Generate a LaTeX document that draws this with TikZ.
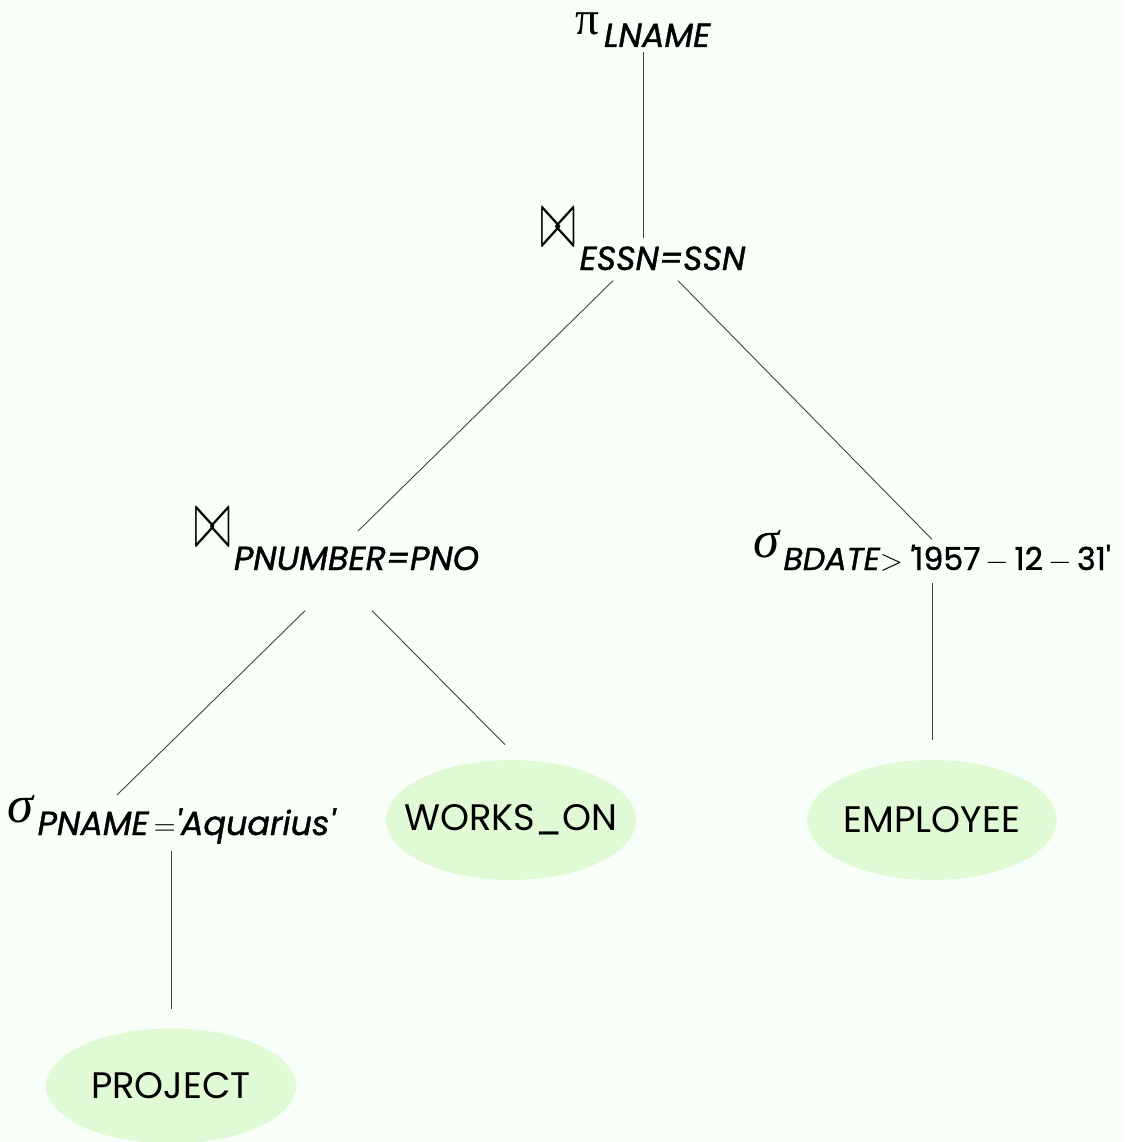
\documentclass[tikz,border=0pt]{standalone}
\usepackage{fontspec}
\usepackage{graphicx}
\setmainfont{Poppins}
\newfontfamily\subfont{Poppins}[FakeBold=1.2]
\newfontfamily\greekfont{Liberation Serif}
\usetikzlibrary{shapes.geometric,calc}

\definecolor{mintbg}{RGB}{248,255,248}
\definecolor{relfill}{RGB}{224,250,214}

% operator symbols sit raised before the subscript text
\newcommand{\opsym}[1]{\smash{\raisebox{7pt}{\fontsize{30}{30}\selectfont\greekfont #1}}\hspace{2.5pt}}
\newcommand{\joinsym}{\smash{\raisebox{13pt}{\scalebox{1}[1.9]{\fontsize{26}{28}\selectfont$\bowtie$}}}\hspace{2pt}}
% relation names: keep the ellipse at its own size
\newcommand{\relname}[1]{\makebox[0pt]{#1}}

\begin{document}
\begin{tikzpicture}[x=0.02cm, y=-0.02cm, line width=0.5pt]
        \tikzstyle{op}=[inner sep=0pt, anchor=base, font=\fontsize{19}{22}\subfont\itshape]
        \tikzstyle{rel}=[ellipse, fill=relfill, minimum width=5cm, minimum height=2.4cm, inner sep=0pt, font=\fontsize{21}{26}\selectfont]
        \tikzstyle{link}=[draw=black!75]
        \useasboundingbox (0,0) rectangle (1126,1142);
        \fill[mintbg] (0,0) rectangle (1126,1142);
        \node[op]  (pi)    at (643,47)   {\opsym{\upshape\fontsize{27}{28}\selectfont π}LNAME};
        \node[op]  (j1)    at (643,270)  {\joinsym ESSN=SSN};
        \node[op]  (j2)    at (337,570)  {\joinsym PNUMBER=PNO};
        \node[op, font=\fontsize{18}{22}\subfont\itshape] (s2) at (932,570)
                {\opsym{σ}BDATE$>$\,\textquotesingle{\upshape 1957\,$-$\,12\,$-$\,31\textquotesingle}};
        \node[op]  (s1)    at (171,835)  {\opsym{σ}PNAME$\,=$\textquotesingle Aquarius\textquotesingle};
        \node[rel] (works) at (511,820)  {\relname{WORKS\_ON}};
        \node[rel] (emp)   at (932,820)  {\relname{EMPLOYEE}};
        \node[rel, minimum height=2.3cm] (proj) at (171,1086) {\relname{PROJECT}};
        \draw[link] ($(pi.south)+(0,5)$)  -- ($(j1.north)+(0,-8)$);
        \draw[link] ($(j1.south)+(-30,10)$) -- ($(j2.north)+(21,-15)$);
        \draw[link] ($(j1.south)+(35,10)$)  -- ($(s2.north)+(0,-5)$);
        \draw[link] ($(j2.south)+(-32,40)$) -- ($(s1.north)+(-54,-13)$);
        \draw[link] ($(j2.south)+(35,40)$)  -- ($(works.north)+(-6,-15)$);
        \draw[link] ($(s2.south)+(0,10)$)   -- ($(emp.north)+(0,-20)$);
        \draw[link] ($(s1.south)+(0,7)$)    -- ($(proj.north)+(0,-19)$);
      \end{tikzpicture}
\end{document}
